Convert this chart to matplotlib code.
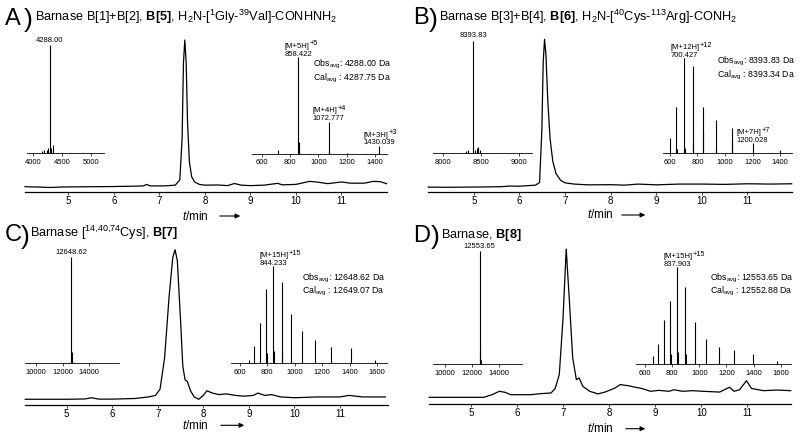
import matplotlib
matplotlib.use('Agg')
import matplotlib.pyplot as plt

plt.rcParams['font.family'] = ['Liberation Sans', 'DejaVu Sans']
plt.rcParams['mathtext.fontset'] = 'custom'
plt.rcParams['mathtext.rm'] = 'Liberation Sans'
plt.rcParams['mathtext.it'] = 'Liberation Sans:italic'
plt.rcParams['mathtext.bf'] = 'Liberation Sans:bold'

# ---------------- DATA ----------------
# Panel A: HPLC trace (time / min, relative absorbance)
A_t = [4.05, 4.3, 4.6, 4.9, 5.2, 5.6, 6.0, 6.4, 6.65, 6.72, 6.8, 7.1, 7.35, 7.45, 7.5, 7.53, 7.56, 7.59, 7.62, 7.66, 7.71, 7.78, 7.88, 8.0, 8.3, 8.5, 8.65, 8.8, 9.0, 9.3, 9.6, 9.7, 10.0, 10.3, 10.45, 10.7, 11.0, 11.2, 11.5, 11.7, 11.85, 11.99]
A_abs = [0.035, 0.033, 0.030, 0.033, 0.034, 0.035, 0.036, 0.038, 0.040, 0.050, 0.040, 0.040, 0.045, 0.08, 0.35, 0.85, 1.0, 0.85, 0.45, 0.2, 0.1, 0.065, 0.05, 0.045, 0.046, 0.042, 0.056, 0.045, 0.042, 0.045, 0.057, 0.047, 0.05, 0.07, 0.066, 0.055, 0.066, 0.058, 0.058, 0.07, 0.068, 0.055]
A_deconv_mass = [4150, 4190, 4230, 4260, 4288.00, 4305, 4336]
A_deconv_int = [0.02, 0.03, 0.03, 0.05, 1.0, 0.05, 0.08]
A_esi_mz = [715, 858.422, 862, 866, 1072.777, 1077, 1200, 1430.039]
A_esi_int = [0.04, 1.0, 0.12, 0.06, 0.33, 0.05, 0.01, 0.08]
A_esi_labels = {858.422: ('[M+5H]', '+5', '858.422'),
                1072.777: ('[M+4H]', '+4', '1072.777'),
                1430.039: ('[M+3H]', '+3', '1430.039')}
A_obs, A_cal = '4288.00', '4287.75'

# Panel B
B_t = [4.0, 4.4, 4.8, 5.2, 5.6, 5.8, 6.0, 6.2, 6.35, 6.44, 6.49, 6.52, 6.55, 6.58, 6.62, 6.67, 6.73, 6.8, 6.9, 7.0, 7.2, 7.5, 8.0, 8.3, 8.6, 9.0, 9.5, 10.0, 10.5, 11.0, 11.5, 11.97]
B_abs = [0.03, 0.029, 0.03, 0.031, 0.033, 0.037, 0.036, 0.04, 0.043, 0.06, 0.4, 0.85, 1.0, 0.9, 0.6, 0.35, 0.2, 0.12, 0.075, 0.058, 0.05, 0.045, 0.046, 0.043, 0.05, 0.045, 0.05, 0.05, 0.048, 0.052, 0.05, 0.052]
B_deconv_mass = [8300, 8330, 8393.83, 8420, 8440, 8460, 8480]
B_deconv_int = [0.02, 0.03, 1.0, 0.03, 0.05, 0.06, 0.03]
B_esi_mz = [600.56, 646.7, 650, 700.427, 710, 764.07, 770, 840.39, 843, 933.6, 937, 1050.2, 1054, 1200.028, 1399.97]
B_esi_int = [0.16, 0.49, 0.05, 1.0, 0.06, 0.92, 0.1, 0.49, 0.23, 0.35, 0.05, 0.27, 0.15, 0.105, 0.03]
B_esi_labels = {700.427: ('[M+12H]', '+12', '700.427'),
                1200.028: ('[M+7H]', '+7', '1200.028')}
B_obs, B_cal = '8393.83', '8393.34'

# Panel C
C_t = [4.09, 4.5, 5.0, 5.4, 5.55, 5.7, 6.0, 6.5, 6.8, 6.95, 7.05, 7.15, 7.25, 7.33, 7.38, 7.43, 7.5, 7.55, 7.6, 7.65, 7.72, 7.8, 7.9, 8.0, 8.08, 8.2, 8.35, 8.5, 8.7, 8.9, 9.1, 9.2, 9.35, 9.5, 9.7, 10.0, 10.5, 11.0, 11.2, 11.5, 12.0]
C_abs = [0.035, 0.035, 0.035, 0.037, 0.045, 0.036, 0.036, 0.04, 0.05, 0.06, 0.1, 0.3, 0.7, 0.95, 1.0, 0.93, 0.55, 0.25, 0.16, 0.15, 0.09, 0.05, 0.035, 0.06, 0.09, 0.075, 0.065, 0.07, 0.06, 0.055, 0.06, 0.075, 0.06, 0.065, 0.05, 0.045, 0.05, 0.05, 0.06, 0.05, 0.05]
C_deconv_mass = [12648.62, 12690, 12730]
C_deconv_int = [1.0, 0.1, 0.04]
C_esi_mz = [666.7, 703.7, 745.0, 791.5, 795, 844.233, 848, 904.5, 908, 974.0, 1055.1, 1150.9, 1265.9, 1406.4, 1582.1]
C_esi_int = [0.034, 0.18, 0.41, 0.77, 0.1, 1.0, 0.12, 0.84, 0.1, 0.51, 0.33, 0.24, 0.17, 0.16, 0.034]
C_esi_labels = {844.233: ('[M+15H]', '+15', '844.233')}
C_obs, C_cal = '12648.62', '12649.07'

# Panel D
D_t = [4.1, 5.28, 5.46, 5.62, 5.75, 5.86, 6.3, 6.52, 6.74, 6.83, 6.92, 7.0, 7.07, 7.14, 7.21, 7.29, 7.35, 7.43, 7.58, 7.76, 7.91, 8.13, 8.24, 8.42, 8.57, 8.71, 8.9, 9.08, 9.3, 9.41, 9.59, 9.81, 10.03, 10.4, 10.61, 10.71, 10.83, 10.98, 11.09, 11.35, 11.64, 11.94]
D_abs = [0.043, 0.043, 0.06, 0.082, 0.075, 0.06, 0.06, 0.067, 0.071, 0.1, 0.19, 0.55, 1.0, 0.66, 0.3, 0.157, 0.168, 0.114, 0.082, 0.065, 0.077, 0.103, 0.125, 0.118, 0.108, 0.1, 0.082, 0.088, 0.082, 0.092, 0.082, 0.086, 0.082, 0.077, 0.108, 0.082, 0.092, 0.15, 0.1, 0.086, 0.09, 0.086]
D_deconv_mass = [12553.65, 12590, 12630]
D_deconv_int = [1.0, 0.12, 0.03]
D_esi_mz = [661.7, 698.4, 739.5, 785.6, 790, 837.903, 842, 897.7, 902, 966.7, 1047.1, 1142.2, 1256.4, 1395.9, 1570.2]
D_esi_int = [0.076, 0.2, 0.45, 0.65, 0.1, 1.0, 0.12, 0.80, 0.1, 0.43, 0.26, 0.17, 0.145, 0.10, 0.024]
D_esi_labels = {837.903: ('[M+15H]', '+15', '837.903')}
D_obs, D_cal = '12553.65', '12552.88'

time_ticks = [5, 6, 7, 8, 9, 10, 11]

# ---------------- LAYOUT ----------------
W, H = 800, 438
fig = plt.figure(figsize=(8, 4.38), dpi=100)


def box(x0, x1, ytop, ybot):
    return [x0 / W, 1 - ybot / H, (x1 - x0) / W, (ybot - ytop) / H]


def fx(x):
    return x / W


def fy(y):
    return 1 - y / H


def style_axis(ax, lw, ls, tl, pad):
    for s in ('left', 'right', 'top'):
        ax.spines[s].set_visible(False)
    ax.spines['bottom'].set_linewidth(lw)
    ax.set_yticks([])
    ax.set_facecolor('none')
    ax.tick_params(axis='x', labelsize=ls, length=tl, width=0.5, pad=pad, direction='out')


def panel(letter, title, lx, px, tx, tbase, main, t, a, xlim_t, tmin_xy, arrow,
          left, mass, mint, lxlim, lticks, lab_mass,
          right, mz, mzint, rxlim, rticks, labels, obs_xy, obs, cal):
    # panel letter and title
    fig.text(fx(lx), fy(tbase + 3.5), letter, fontsize=17, va='baseline', ha='left')
    fig.text(fx(px), fy(tbase + 6), ')', fontsize=19, va='baseline', ha='left', fontweight='light')
    fig.text(fx(tx), fy(tbase), title, fontsize=9.2, va='baseline', ha='left')

    # main chromatogram
    ax = fig.add_axes(box(*main))
    ax.plot(t, a, color='black', lw=0.9, clip_on=False)
    ax.set_xlim(*xlim_t)
    ax.set_ylim(0, 1)
    ax.set_xticks(time_ticks)
    style_axis(ax, 0.9, 7, 2.0, 1.0)
    fig.text(fx(tmin_xy[0]), fy(tmin_xy[1]), '$t$/min', fontsize=8.5, ha='center', va='center')
    fig.add_artist(matplotlib.patches.FancyArrowPatch(
        (fx(arrow[0]), fy(tmin_xy[1])), (fx(arrow[1]), fy(tmin_xy[1])),
        transform=fig.transFigure, arrowstyle='-|>', mutation_scale=7, lw=0.8, color='black'))

    # deconvoluted mass inset
    axl = fig.add_axes(box(*left))
    axl.vlines(mass, 0, mint, color='black', lw=0.8, clip_on=False)
    axl.plot(lxlim, [0, 0], color='black', lw=0.6)
    axl.set_xlim(*lxlim)
    axl.set_ylim(0, 1)
    axl.set_xticks(lticks)
    style_axis(axl, 0.6, 5.5, 2, 2.2)
    axl.annotate(lab_mass, (float(lab_mass), 1.0), xytext=(0, 1.0), textcoords='offset points',
                 ha='center', va='bottom', fontsize=5.5)

    # ESI spectrum inset
    axr = fig.add_axes(box(*right))
    axr.vlines(mz, 0, mzint, color='black', lw=0.8, clip_on=False)
    axr.plot(rxlim, [0, 0], color='black', lw=0.6)
    axr.set_xlim(*rxlim)
    axr.set_ylim(0, 1)
    axr.set_xticks(rticks)
    style_axis(axr, 0.6, 5.5, 2, 2.2)
    for m, (l1, sup, l2) in labels.items():
        h = mzint[mz.index(m)]
        num = axr.annotate(l2, (m, h), xytext=(0, -0.4), textcoords='offset points',
                           ha='center', va='bottom', fontsize=5.5)
        ion = axr.annotate(l1, xy=(0, 1), xycoords=num, xytext=(0, 0.6), textcoords='offset points',
                           ha='left', va='bottom', fontsize=5.5)
        axr.annotate(sup, xy=(1, 0.35), xycoords=ion, xytext=(0.3, 0), textcoords='offset points',
                     ha='left', va='bottom', fontsize=5.3)

    fig.text(fx(obs_xy[0]), fy(obs_xy[1] + 5.3),
             r'Obs$_{\rm avg}$: ' + obs + ' Da' + '\n' + r'Cal$_{\rm avg}$ : ' + cal + ' Da',
             fontsize=6.3, ha='left', va='center', linespacing=1.05)


panel('A', r'Barnase B[1]+B[2], $\mathbf{B[5]}$, H$_2$N-[$^1$Gly-$^{39}$Val]-CONHNH$_2$',
      5, 24, 35, 21.5, (25, 387, 40, 192), A_t, A_abs, (4.05, 12.0), (195, 216), (217, 243),
      (26.7, 104.3, 45, 153.3), A_deconv_mass, A_deconv_int, (3883, 5235), [4000, 4500, 5000], '4288.00',
      (251.7, 386.7, 57, 153.5), A_esi_mz, A_esi_int, (529, 1483), [600, 800, 1000, 1200, 1400],
      A_esi_labels, (313, 66), A_obs, A_cal)

panel('B', r'Barnase B[3]+B[4], $\mathbf{B[6]}$, H$_2$N-[$^{40}$Cys-$^{113}$Arg]-CONH$_2$',
      413, 429, 439, 21.0, (428.3, 791.7, 39.3, 191.7), B_t, B_abs, (4.0, 11.97), (600, 215), (619, 648),
      (433.3, 531.7, 40.7, 153.3), B_deconv_mass, B_deconv_int, (7868, 9168), [8000, 8500, 9000], '8393.83',
      (662.7, 791.7, 58.3, 153.3), B_esi_mz, B_esi_int, (547, 1485), [600, 800, 1000, 1200, 1400],
      B_esi_labels, (716.7, 63.3), B_obs, B_cal)

panel('C', r'Barnase [$^{14{,}40{,}74}$Cys], $\mathbf{B[7]}$',
      5, 21, 30, 237.5, (25, 387.7, 249.7, 404.7), C_t, C_abs, (4.085, 12.05), (195, 425.3), (218, 247),
      (25, 119.3, 257.3, 363), C_deconv_mass, C_deconv_int, (9150, 16300), [10000, 12000, 14000], '12648.62',
      (231, 386.7, 266.3, 363), C_esi_mz, C_esi_int, (535, 1670), [600, 800, 1000, 1200, 1400, 1600],
      C_esi_labels, (301.7, 279.7), C_obs, C_cal)

panel('D', r'Barnase, $\mathbf{B[8]}$',
      413, 431, 441, 238, (429.3, 790.7, 249, 404), D_t, D_abs, (4.10, 11.94), (600, 428.7), (623, 648),
      (433.3, 521.7, 251.3, 363.7), D_deconv_mass, D_deconv_int, (9130, 15680), [10000, 12000, 14000], '12553.65',
      (636, 790.7, 267.3, 363.7), D_esi_mz, D_esi_int, (533, 1674), [600, 800, 1000, 1200, 1400, 1600],
      D_esi_labels, (710, 279.7), D_obs, D_cal)

fig.savefig('out.png', dpi=100)
